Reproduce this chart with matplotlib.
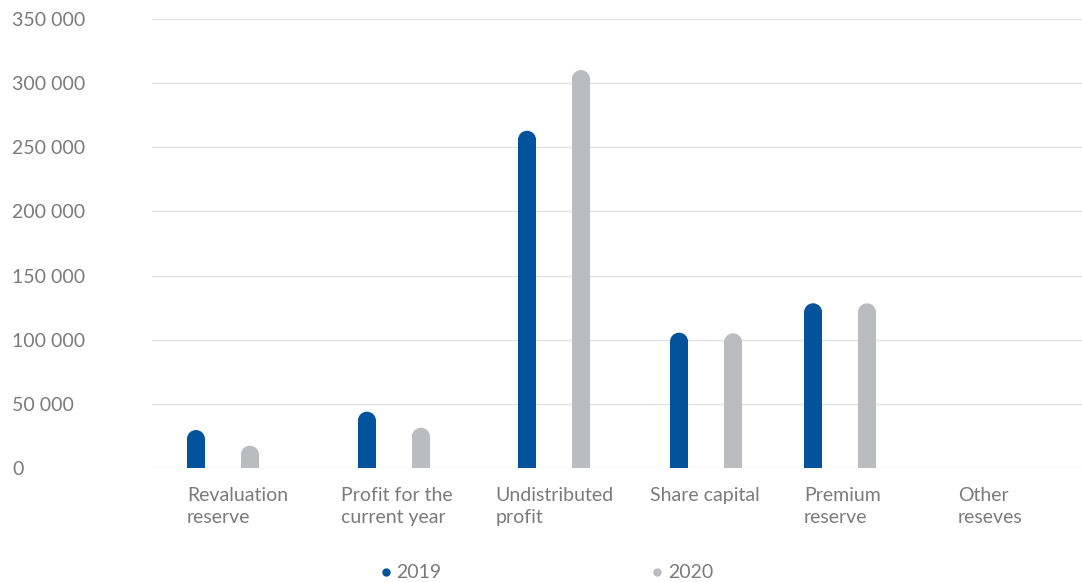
import matplotlib.pyplot as plt
from matplotlib.patches import Ellipse
from matplotlib.lines import Line2D
import numpy as np

categories = ["Revaluation\nreserve", "Profit for the\ncurrent year", "Undistributed\nprofit",
              "Share capital", "Premium\nreserve", "Other\nreseves"]
values_2019 = [29600, 43900, 262900, 105500, 128400, 0]
values_2020 = [17400, 31400, 310200, 105000, 128400, 0]
yticks = [0, 50000, 100000, 150000, 200000, 250000, 300000, 350000]

# layout (in category units), bars are not evenly spaced in the original
bar_offsets = [0.285, 0.394, 0.432, 0.418, 0.287, 0.35]
label_offset = 0.227
pair_gap = 0.35
bar_w = 0.117

blue = '#02529C'
grey = '#BBBCC0'
text_c = '#7b7b7b'

plt.rcParams['font.family'] = ['Lato', 'DejaVu Sans']

fig = plt.figure(figsize=(10.82, 5.82), dpi=100)
ax = fig.add_axes([152 / 1082, (582 - 468) / 582, 930 / 1082, 449 / 582])
ax.set_xlim(0, 930 / 154.2)
ax.set_ylim(0, 350000)

# vertical size of the rounded cap in data units (9 px radius)
cap = 9 * 350000 / 449


def rounded_bar(x, v, color):
    if v <= 0:
        return
    ax.bar(x, v - cap, width=bar_w, color=color, zorder=3, linewidth=0)
    ax.add_patch(Ellipse((x, v - cap), bar_w, 2 * cap, color=color, zorder=3, linewidth=0))


for i in range(len(categories)):
    x1 = i + bar_offsets[i]
    rounded_bar(x1, values_2019[i], blue)
    rounded_bar(x1 + pair_gap, values_2020[i], grey)

for y in yticks:
    ax.axhline(y, color='#e4e4e4', lw=1.0, zorder=1)

ax.set_yticks(yticks)
ax.set_yticklabels([f"{v:,}".replace(",", " ") for v in yticks], ha='left', color=text_c, fontsize=14)
ax.tick_params(axis='y', length=0, pad=140 * 0.72)

ax.set_xticks(np.arange(len(categories)) + label_offset)
ax.set_xticklabels(categories, ha='left', va='top', color=text_c, fontsize=14, linespacing=1.32)
ax.tick_params(axis='x', length=0, pad=14)

for s in ax.spines.values():
    s.set_visible(False)

handles = [Line2D([], [], marker='o', ls='', color=blue, markersize=5),
           Line2D([], [], marker='o', ls='', color=grey, markersize=5)]
leg = fig.legend(handles, ['2019', '2020'], loc='center', bbox_to_anchor=(0.505, 1 - 573 / 582),
                 ncol=2, frameon=False, columnspacing=10.8, handlelength=0.6,
                 handletextpad=0.25, fontsize=14)
for t in leg.get_texts():
    t.set_color(text_c)

fig.savefig('out.png', dpi=100)
